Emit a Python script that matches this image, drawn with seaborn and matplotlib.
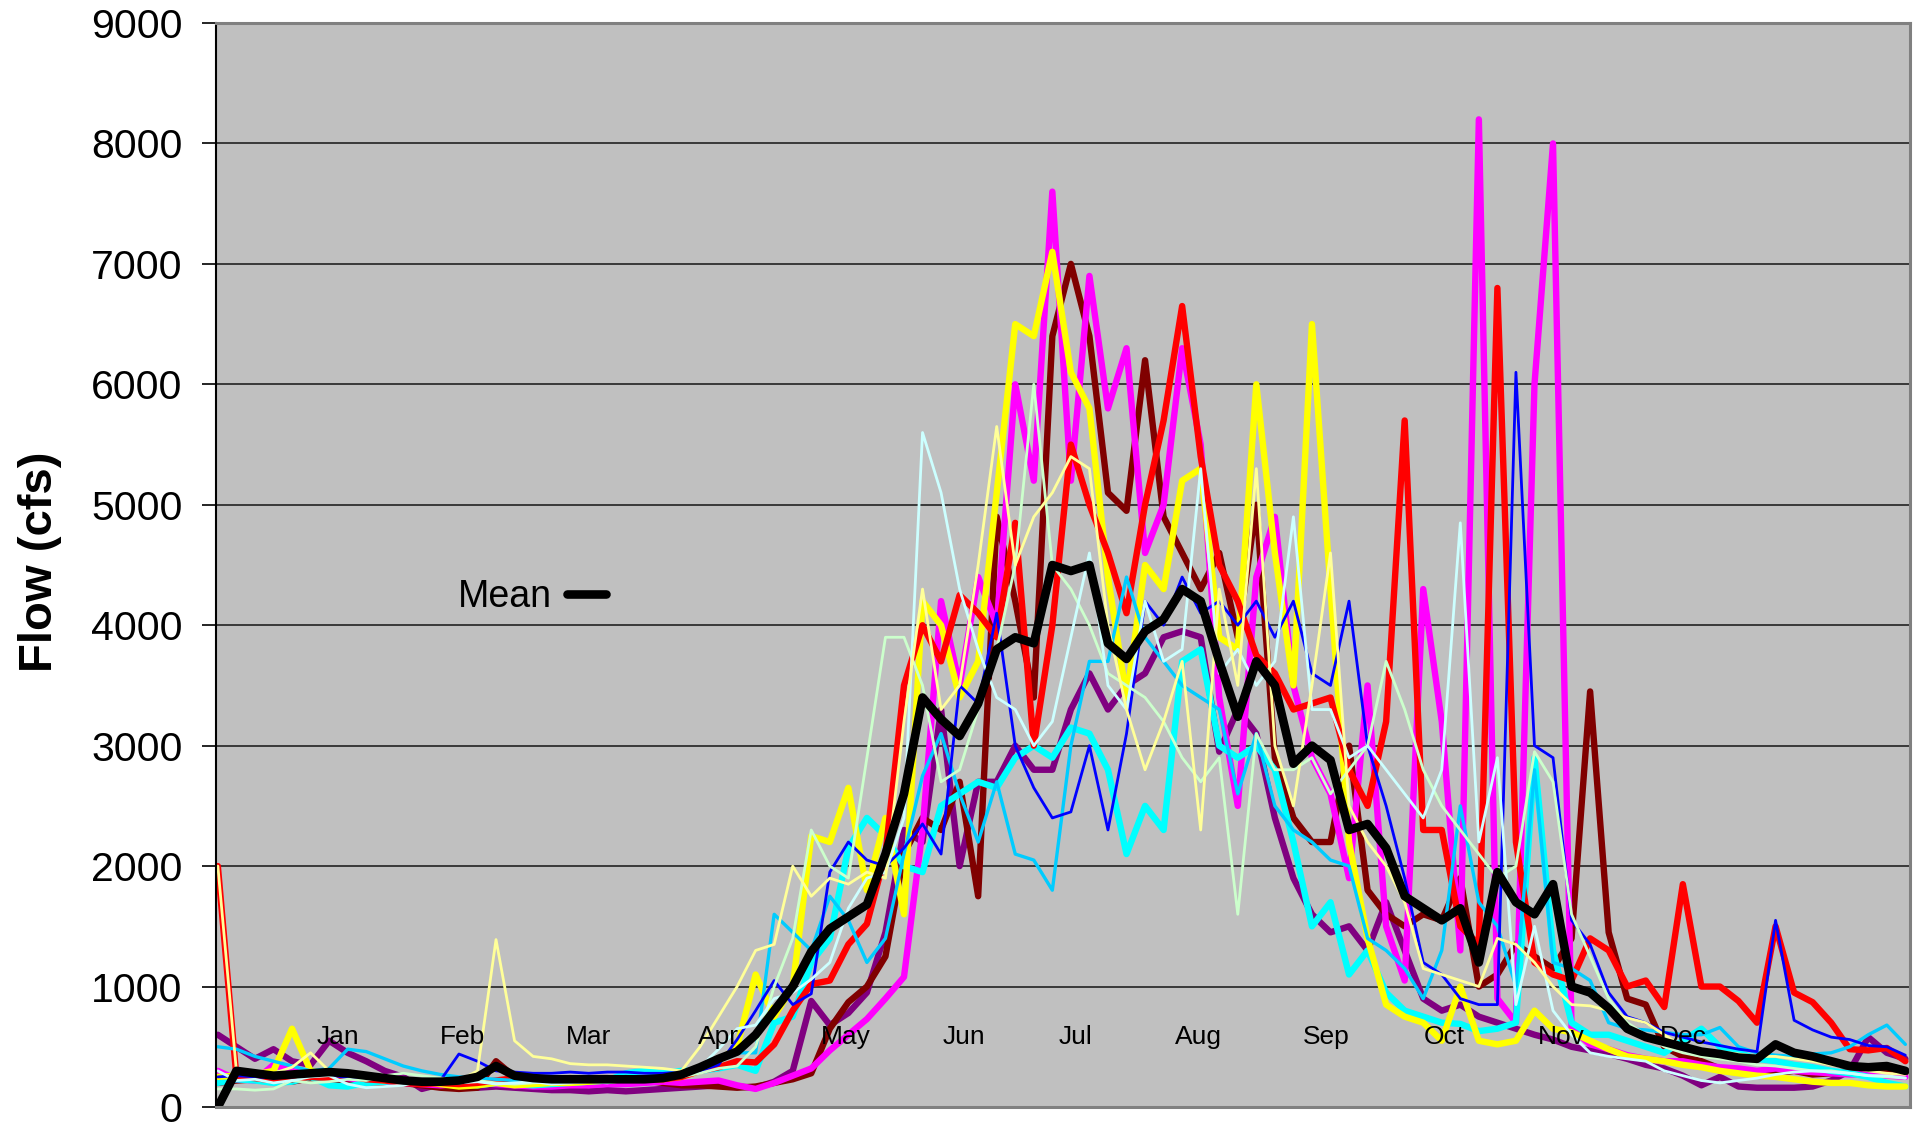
import pandas as pd
import seaborn as sns
import matplotlib
matplotlib.use("Agg")
import matplotlib.pyplot as plt

# day of record, one reading every 4 days
days = list(range(0, 365, 4))

red = [2000, 250, 240, 220, 230, 250, 240, 260, 230, 220,
       200, 190, 200, 190, 200, 220, 240, 220, 230, 240,
       230, 230, 240, 230, 230, 250, 300, 330, 380, 370,
       520, 800, 1020, 1050, 1350, 1520, 2100, 3500, 4000, 3700,
       4250, 4100, 3900, 4850, 3000, 4000, 5500, 5000, 4600, 4100,
       5000, 5700, 6650, 5400, 4500, 4200, 3750, 3600, 3300, 3350,
       3400, 2800, 2500, 3200, 5700, 2300, 2300, 1500, 1350, 6800,
       2200, 1200, 1100, 1050, 1400, 1300, 1000, 1050, 830, 1850,
       1000, 1000, 880, 700, 1500, 950, 870, 700, 480, 470,
       490, 380]

magenta = [300, 230, 220, 350, 300, 260, 250, 240, 220, 210,
           200, 190, 180, 190, 200, 190, 180, 170, 170, 180,
           180, 190, 190, 200, 210, 200, 210, 220, 180, 150,
           200, 260, 320, 470, 600, 730, 900, 1080, 2300, 4200,
           3500, 4400, 4000, 6000, 5200, 7600, 5200, 6900, 5800, 6300,
           4600, 5000, 6300, 5500, 3400, 2500, 4400, 4900, 3500, 2900,
           2600, 1900, 3500, 1500, 1050, 4300, 3200, 1300, 8200, 900,
           700, 6000, 8000, 650, 520, 480, 430, 400, 380, 380,
           350, 330, 320, 300, 320, 300, 290, 280, 270, 270,
           260, 250]

yellow = [250, 260, 270, 300, 650, 300, 280, 260, 240, 220,
          220, 210, 190, 170, 180, 200, 180, 190, 200, 200,
          210, 220, 230, 240, 230, 250, 300, 380, 500, 1100,
          750, 1000, 2250, 2200, 2650, 1800, 2400, 1600, 4200, 4000,
          3400, 3700, 5100, 6500, 6400, 7100, 6100, 5800, 4400, 3400,
          4500, 4300, 5200, 5300, 3900, 3800, 6000, 4600, 3500, 6500,
          4300, 2200, 1400, 850, 750, 700, 550, 1000, 550, 520,
          550, 800, 650, 620, 550, 480, 420, 400, 380, 350,
          330, 300, 280, 260, 250, 230, 210, 200, 200, 180,
          170, 170]

cyan = [200, 230, 220, 200, 210, 250, 180, 170, 200, 210,
        220, 210, 200, 190, 180, 200, 190, 180, 190, 200,
        210, 220, 280, 300, 280, 300, 300, 320, 350, 300,
        700, 750, 1200, 1400, 2150, 2400, 2250, 2000, 1950, 2500,
        2600, 2700, 2650, 2900, 3000, 2900, 3150, 3100, 2800, 2100,
        2500, 2300, 3700, 3800, 3000, 2900, 3000, 2800, 2200, 1500,
        1700, 1100, 1300, 950, 800, 750, 700, 690, 630, 650,
        700, 2900, 1300, 700, 600, 600, 550, 500, 450, 550,
        650, 500, 450, 400, 380, 350, 330, 300, 280, 250,
        200, 170]

dark_red = [200, 220, 230, 220, 210, 240, 220, 230, 210, 200,
            200, 180, 160, 150, 160, 380, 250, 230, 220, 230,
            240, 240, 230, 220, 200, 180, 180, 170, 160, 170,
            200, 230, 280, 650, 870, 1000, 1250, 2100, 2400, 2300,
            2700, 1750, 4900, 4200, 3400, 6400, 7000, 6400, 5100, 4950,
            6200, 4900, 4600, 4300, 4600, 3900, 5000, 2900, 2400, 2200,
            2200, 3000, 1800, 1600, 1500, 1600, 1550, 1900, 1000, 1100,
            1350, 1250, 1150, 1400, 3450, 1450, 900, 850, 500, 420,
            380, 320, 300, 290, 280, 300, 270, 280, 300, 320,
            300, 280]

purple = [600, 500, 400, 480, 380, 350, 550, 450, 380, 300,
          250, 150, 190, 170, 160, 170, 160, 150, 140, 140,
          130, 140, 130, 140, 150, 160, 170, 180, 170, 160,
          210, 300, 880, 680, 780, 950, 1450, 2300, 2200, 3300,
          2000, 2700, 2700, 3000, 2800, 2800, 3300, 3600, 3300, 3500,
          3600, 3900, 3950, 3900, 2950, 3300, 3100, 2400, 1900, 1600,
          1450, 1500, 1300, 1700, 1300, 900, 800, 850, 750, 700,
          650, 600, 560, 500, 470, 440, 400, 350, 320, 260,
          180, 250, 170, 160, 160, 160, 170, 220, 300, 580,
          450, 400]

blue = [250, 260, 250, 240, 250, 260, 270, 240, 250, 230,
        220, 210, 220, 440, 380, 300, 290, 280, 280, 290,
        280, 290, 290, 280, 280, 290, 300, 350, 560, 800,
        1050, 850, 940, 1950, 2200, 2050, 2000, 2150, 2350, 2100,
        3500, 3350, 4100, 3000, 2650, 2400, 2450, 3000, 2300, 3100,
        4200, 4000, 4400, 4100, 4200, 4000, 4200, 3900, 4200, 3600,
        3500, 4200, 3000, 2500, 1900, 1200, 1100, 900, 850, 850,
        6100, 3000, 2900, 1550, 1350, 950, 750, 700, 620, 580,
        540, 510, 480, 460, 1550, 720, 640, 580, 560, 510,
        500, 430]

light_yellow = [2000, 300, 290, 280, 330, 450, 300, 260, 250, 230,
                220, 220, 210, 220, 300, 1390, 550, 420, 400, 360,
                350, 350, 340, 330, 320, 300, 500, 750, 1000, 1300,
                1350, 2000, 1750, 1900, 1850, 1950, 1900, 3200, 4300, 3300,
                3500, 4500, 5650, 4500, 4900, 5100, 5400, 5300, 4000, 3300,
                2800, 3200, 3700, 2300, 4300, 3500, 5300, 3000, 2500, 3500,
                4600, 2500, 2200, 2000, 1700, 1150, 1100, 1050, 1000, 1400,
                1350, 1200, 1000, 850, 840, 800, 740, 700, 600, 500,
                480, 460, 440, 420, 420, 400, 380, 350, 330, 300,
                280, 270]

light_cyan = [300, 220, 230, 200, 220, 250, 260, 190, 160, 170,
              180, 220, 230, 200, 210, 190, 200, 210, 190, 200,
              210, 200, 220, 210, 230, 260, 330, 480, 650, 680,
              900, 950, 1060, 1200, 1650, 1900, 1950, 2400, 5600, 5100,
              4300, 3800, 3400, 3300, 3000, 3200, 3900, 4600, 3500, 3300,
              4200, 3700, 3800, 5300, 3600, 3800, 3500, 3700, 4900, 3300,
              3300, 2900, 3000, 2800, 2600, 2400, 2800, 4850, 2200, 2900,
              850, 1500, 800, 600, 450, 420, 400, 380, 300, 260,
              220, 200, 220, 240, 270, 290, 300, 290, 280, 260,
              260, 240]

light_green = [150, 150, 140, 150, 220, 200, 210, 230, 220, 260,
               280, 260, 240, 230, 220, 200, 190, 200, 210, 200,
               210, 220, 230, 230, 240, 250, 280, 320, 340, 500,
               1000, 1400, 2300, 2000, 1900, 2900, 3900, 3900, 3500, 2700,
               2800, 3300, 3800, 4500, 6000, 4500, 4300, 4000, 3600, 3500,
               3400, 3200, 2900, 2700, 2900, 1600, 3100, 2800, 2800, 2900,
               2600, 2800, 3000, 3700, 3300, 2800, 2500, 2300, 2100, 1900,
               2000, 2950, 2700, 1600, 1250, 900, 700, 600, 500, 450,
               420, 400, 380, 350, 340, 320, 300, 300, 280, 260,
               250, 240]

sky_blue = [500, 480, 420, 380, 340, 300, 320, 480, 460, 400,
            340, 300, 270, 250, 240, 230, 220, 230, 240, 250,
            240, 240, 230, 240, 250, 280, 300, 380, 450, 450,
            1600, 1450, 1300, 1750, 1550, 1200, 1400, 2100, 2750, 3100,
            2600, 2200, 2700, 2100, 2050, 1800, 3000, 3700, 3700, 4400,
            3900, 3700, 3500, 3400, 3300, 2600, 3100, 2500, 2300, 2200,
            2050, 2000, 1400, 1300, 1150, 900, 1300, 2500, 1700, 1500,
            1000, 2800, 1200, 1150, 1050, 700, 650, 640, 620, 600,
            600, 660, 500, 450, 430, 420, 440, 450, 500, 600,
            680, 520]

mean_flow = [0, 300, 280, 260, 270, 280, 290, 280, 260, 240,
             220, 210, 210, 220, 250, 340, 260, 240, 230, 230,
             230, 230, 230, 230, 240, 270, 330, 400, 460, 600,
             800, 1000, 1290, 1480, 1580, 1680, 2100, 2600, 3400, 3220,
             3080, 3350, 3800, 3900, 3850, 4500, 4450, 4500, 3850, 3720,
             3950, 4050, 4300, 4200, 3700, 3240, 3700, 3500, 2850, 3000,
             2880, 2300, 2350, 2150, 1750, 1650, 1550, 1650, 1200, 1950,
             1700, 1600, 1850, 1000, 950, 820, 650, 580, 540, 500,
             460, 440, 410, 400, 520, 450, 420, 380, 340, 330,
             340, 300]

months = ["Jan", "Feb", "Mar", "Apr", "May", "Jun",
          "Jul", "Aug", "Sep", "Oct", "Nov", "Dec"]
month_days = [25.8, 52.7, 80, 108, 135.5, 161, 185, 211.6, 239, 264.5, 289.7, 316]

series = {
    "purple": purple, "dark_red": dark_red, "magenta": magenta, "cyan": cyan,
    "yellow": yellow, "red": red, "sky_blue": sky_blue, "blue": blue,
    "light_green": light_green, "light_cyan": light_cyan, "light_yellow": light_yellow,
}
colors = {
    "purple": "#800080", "dark_red": "#800000", "magenta": "#FF00FF", "cyan": "#00FFFF",
    "yellow": "#FFFF00", "red": "#FF0000", "sky_blue": "#00CCFF", "blue": "#0000FF",
    "light_green": "#CCFFCC", "light_cyan": "#CCFFFF", "light_yellow": "#FFFF99",
}
widths = {
    "purple": 4.6, "dark_red": 4.6, "magenta": 4.6, "cyan": 4.6,
    "yellow": 4.6, "red": 4.6, "sky_blue": 2.4, "blue": 2.0,
    "light_green": 2.0, "light_cyan": 2.0, "light_yellow": 2.0,
}
order = list(series.keys())

frames = []
for name, vals in series.items():
    frames.append(pd.DataFrame({"day": days, "flow": vals, "series": name}))
df = pd.concat(frames, ignore_index=True)

sns.set_style("white")
plt.rcParams["font.family"] = ["Liberation Sans", "DejaVu Sans"]
plt.rcParams["text.color"] = "black"
plt.rcParams["axes.labelcolor"] = "black"

fig = plt.figure(figsize=(19.13, 11.27), dpi=100)
ax = fig.add_axes([216 / 1913, 20 / 1127, 1694 / 1913, 1084 / 1127])
ax.set_facecolor("#C0C0C0")

sns.lineplot(data=df, x="day", y="flow", hue="series", size="series",
             hue_order=order, size_order=order, palette=colors, sizes=widths,
             estimator=None, errorbar=None, legend=False, ax=ax)
sns.lineplot(x=days, y=mean_flow, color="black", linewidth=6.2,
             estimator=None, errorbar=None, ax=ax)
mean_line = ax.lines[-1]

for d, m in zip(month_days, months):
    ax.text(d, 580, m, ha="center", va="center", fontsize=19, color="black")

leg = ax.legend([mean_line], ["Mean"], loc="center left", bbox_to_anchor=(0.1429, 0.4705),
                frameon=False, markerfirst=False, fontsize=27, handlelength=1.05,
                handletextpad=0.4, borderpad=0, borderaxespad=0)
for t in leg.get_texts():
    t.set_color("black")

ax.set_xlim(-0.4, 365)
ax.set_ylim(0, 9000)
ax.set_yticks(range(0, 9001, 1000))
ax.set_xticks([])
ax.set_xlabel("")
ax.tick_params(axis="y", length=10, width=1.2, direction="out", labelsize=29.5,
               pad=14, colors="black", left=True)
ax.grid(axis="y", color="#222222", linewidth=1.2)
ax.set_axisbelow(True)
ax.set_ylabel("Flow (cfs)", fontsize=34, fontweight="bold", color="black")
ax.yaxis.set_label_coords(-0.091, 0.503)

for side in ["top", "right", "bottom"]:
    ax.spines[side].set_color("#808080")
    ax.spines[side].set_linewidth(2.2)
ax.spines["left"].set_color("black")
ax.spines["left"].set_linewidth(1.5)

fig.savefig("out.png", dpi=100)
